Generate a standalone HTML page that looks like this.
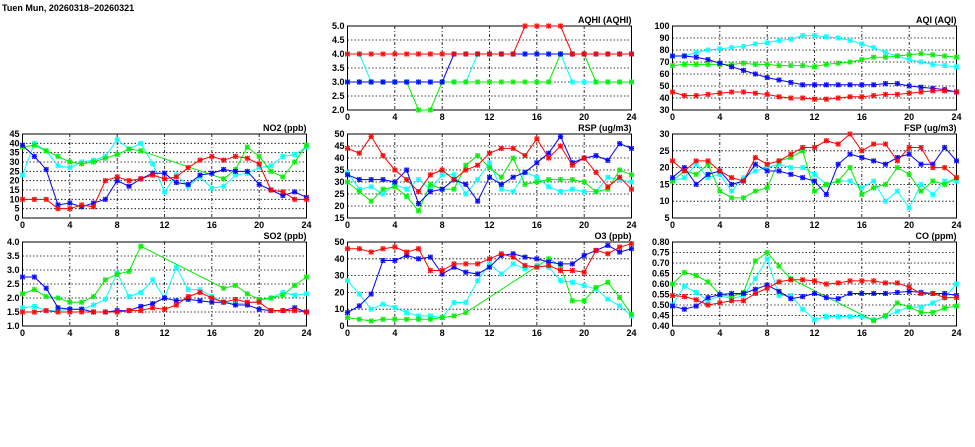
<!DOCTYPE html>
<html><head><meta charset="utf-8">
<style>
body{margin:0;background:#fff;width:975px;height:447px;overflow:hidden}
svg{display:block}
text{font-family:"Liberation Sans",sans-serif;font-weight:bold;font-size:9px;fill:#000}
</style></head><body>
<svg id="chart" width="975" height="447">
<text x="2" y="11" font-size="10">Tuen Mun, 20260318−20260321</text>
</svg>
<script>
const hours=[0,1,2,3,4,5,6,7,8,9,10,11,12,13,14,15,16,17,18,19,20,21,22,23,24];
const N=null;
const aqhiTicks=["2.0","2.5","3.0","3.5","4.0","4.5","5.0"];
const aqhiCyan=[4,4,3,3,3,3,3,3,3,3,3,4,4,4,4,4,4,4,4,3,3,3,3,3,3];
const aqhiGreen=[3,3,3,3,3,3,2,2,3,3,3,3,3,3,3,3,3,3,4,4,4,3,3,3,3];
const aqhiBlue=[3,3,3,3,3,3,3,3,3,4,4,4,4,4,4,4,4,4,4,4,4,4,4,4,4];
const aqhiRed=[4,4,4,4,4,4,4,4,4,4,4,4,4,4,4,5,5,5,5,4,4,4,4,4,4];
const aqiTicks=["30","40","50","60","70","80","90","100"];
const aqiCyan=[75,75,78,80,81,82,83,85,86,88,89,92,92,91,90,88,85,82,78,75,72,70,68,67,66];
const aqiGreen=[67,68,68,68,68,68,69,68,68,67,67,67,66,68,69,70,72,74,74,75,76,77,76,75,74];
const aqiBlue=[75,75,74,72,69,66,63,60,57,55,53,51,51,51,51,51,51,51,52,52,50,49,48,47,45];
const aqiRed=[45,42,42,43,44,45,45,44,43,41,40,40,39,39,40,41,41,42,43,43,44,45,46,46,45];
const no2Ticks=["0","5","10","15","20","25","30","35","40","45"];
const no2Cyan=[23,40,36,28,27,30,31,33,42,37,40,29,14,23,17,22,16,17,23,24,27,28,33,34,38];
const no2Green=[38,39,36,33,30,29,30,32,34,37,36,N,N,N,N,N,N,21,26,38,33,25,22,30,39];
const no2Blue=[39,33,26,7,8,6,8,10,20,17,21,24,24,19,18,23,24,26,25,25,18,15,12,14,11];
const no2Red=[10,10,10,5,5,7,6,20,22,20,21,23,21,22,27,31,33,31,33,32,29,15,14,10,10];
const rspTicks=["15","20","25","30","35","40","45","50"];
const rspCyan=[34,27,28,25,29,27,31,27,33,33,25,31,38,27,26,34,32,28,26,27,26,26,32,31,30];
const rspGreen=[30,26,22,27,28,24,18,29,27,27,37,41,36,32,40,29,30,31,31,31,30,26,27,35,33];
const rspBlue=[33,31,31,31,30,35,21,26,27,31,29,22,32,29,32,34,38,42,49,38,40,41,39,46,44];
const rspRed=[44,42,49,41,35,31,26,33,35,31,35,37,42,44,44,41,48,40,45,37,40,34,28,32,27];
const fspTicks=["5","10","15","20","25","30"];
const fspCyan=[16,17,21,17,18,13,17,19,20,21,20,20,18,15,16,16,14,16,10,13,8,15,12,16,16];
const fspGreen=[16,19,18,21,13,11,11,13,14,22,23,25,13,15,16,20,12,14,15,20,18,13,16,15,17];
const fspBlue=[17,20,15,18,19,15,16,21,19,19,18,17,16,12,21,24,23,22,21,23,24,21,21,26,22];
const fspRed=[22,19,22,22,19,17,16,23,21,22,24,26,26,28,27,30,25,27,27,22,26,26,20,20,17];
const so2Ticks=["1.0","1.5","2.0","2.5","3.0","3.5","4.0"];
const so2Cyan=[1.65,1.7,1.55,1.55,1.6,1.6,1.75,1.95,2.9,2.05,2.2,2.65,2.0,3.1,2.3,2.3,2.05,1.85,1.8,1.8,1.9,2.0,2.2,2.1,2.15];
const so2Green=[2.15,2.3,2.05,2.0,1.85,1.85,2.05,2.65,2.85,2.95,3.85,N,N,N,N,N,N,2.35,2.45,2.15,1.95,2.0,2.1,2.45,2.75];
const so2Blue=[2.75,2.75,2.35,1.65,1.6,1.6,1.5,1.5,1.55,1.55,1.7,1.8,2.0,1.9,1.95,1.9,1.85,1.85,1.75,1.75,1.6,1.55,1.55,1.65,1.5];
const so2Red=[1.5,1.5,1.55,1.5,1.5,1.5,1.5,1.5,1.5,1.55,1.55,1.65,1.6,1.75,2.05,2.2,2.0,1.85,1.95,1.85,1.85,1.55,1.55,1.55,1.5];
const o3Ticks=["0","10","20","30","40","50"];
const o3Cyan=[27,19,10,13,11,8,6,6,5,14,14,27,37,31,37,34,36,35,27,26,24,22,16,12,6];
const o3Green=[5,4,3,4,4,4,4,4,5,6,8,N,N,N,N,N,N,40,36,15,15,23,26,17,7];
const o3Blue=[8,12,19,39,39,42,40,41,31,35,32,31,35,42,43,41,40,38,37,37,42,45,48,44,46];
const o3Red=[46,46,44,46,47,44,46,33,33,37,37,37,40,43,41,36,35,36,33,33,32,45,43,47,49];
const coTicks=["0.40","0.45","0.50","0.55","0.60","0.65","0.70","0.75","0.80"];
const coCyan=[.50,.59,.56,.52,.545,.53,.545,.625,.72,.545,.545,.48,.43,.445,.445,.445,.445,.43,.445,.47,.49,.49,.51,.535,.60];
const coGreen=[.60,.655,.64,.61,.55,.54,.56,.71,.75,.685,.625,N,N,N,N,N,N,.425,.45,.51,.49,.465,.465,.485,.495];
const coBlue=[.495,.48,.495,.535,.55,.555,.555,.575,.595,.565,.53,.54,.555,.535,.53,.555,.555,.555,.555,.56,.565,.56,.555,.555,.545];
const coRed=[.545,.54,.525,.50,.51,.52,.52,.555,.58,.61,.62,.62,.615,.60,.605,.615,.615,.615,.605,.605,.585,.555,.555,.535,.535];
const xTicks=[0,4,8,12,16,20,24];

const panels=[
 {name:"aqhi",title:"AQHI (AQHI)",x:347.5,y:26,ticks:aqhiTicks,s:[aqhiCyan,aqhiGreen,aqhiBlue,aqhiRed]},
 {name:"aqi",title:"AQI (AQI)",x:672.5,y:26,ticks:aqiTicks,s:[aqiCyan,aqiGreen,aqiBlue,aqiRed]},
 {name:"no2",title:"NO2 (ppb)",x:22.5,y:134,ticks:no2Ticks,s:[no2Cyan,no2Green,no2Blue,no2Red]},
 {name:"rsp",title:"RSP (ug/m3)",x:347.5,y:134,ticks:rspTicks,s:[rspCyan,rspGreen,rspBlue,rspRed]},
 {name:"fsp",title:"FSP (ug/m3)",x:672.5,y:134,ticks:fspTicks,s:[fspCyan,fspGreen,fspBlue,fspRed]},
 {name:"so2",title:"SO2 (ppb)",x:22.5,y:242,ticks:so2Ticks,s:[so2Cyan,so2Green,so2Blue,so2Red]},
 {name:"o3",title:"O3 (ppb)",x:347.5,y:242,ticks:o3Ticks,s:[o3Cyan,o3Green,o3Blue,o3Red]},
 {name:"co",title:"CO (ppm)",x:672.5,y:242,ticks:coTicks,s:[coCyan,coGreen,coBlue,coRed]}
];
const colors=["#00ffff","#00ee00","#0000ff","#ff0000"];
const cnames=["cyan","green","blue","red"];
const W=284,H=84;
const svg=document.getElementById('chart');
const NS="http://www.w3.org/2000/svg";
function mk(tag,attrs,parent){const e=document.createElementNS(NS,tag);for(const k in attrs)e.setAttribute(k,attrs[k]);(parent||svg).appendChild(e);return e;}

panels.forEach(p=>{
 const g=mk('g',{});
 
 
 const tv=p.ticks.map(Number);
 const ymin=tv[0],ymax=tv[tv.length-1];
 const sx=h=>p.x+h/24*W;
 const sy=v=>p.y+H-(v-ymin)/(ymax-ymin)*H;
 p.ticks.forEach((t,i)=>{
  const y=sy(tv[i]);
  if(i>0&&i<p.ticks.length-1){const l=mk('line',{x1:p.x,x2:p.x+W,y1:y,y2:y,stroke:'#000','stroke-width':0.8,'stroke-dasharray':'1.5,2'},g);
   }
  const tx=mk('text',{x:p.x-3,y:y+3,'text-anchor':'end'},g);tx.textContent=t;
  
 });
 xTicks.forEach(h=>{
  const x=sx(h);
  if(h>0&&h<24){const l=mk('line',{x1:x,x2:x,y1:p.y,y2:p.y+H,stroke:'#000','stroke-width':0.8,'stroke-dasharray':'3,2,1,2'},g);
   }
  const tx=mk('text',{x:x,y:p.y+H+10,'text-anchor':'middle'},g);tx.textContent=h;
  
 });
 const fr=mk('rect',{x:p.x,y:p.y,width:W,height:H,fill:'none',stroke:'#000','stroke-width':1},g);
 
 const tt=mk('text',{x:p.x+W,y:p.y-3,'text-anchor':'end'},g);tt.textContent=p.title;
 
 p.s.forEach((arr,si)=>{
  const c=colors[si];
  const pts=[];arr.forEach((v,i)=>{if(v!==null)pts.push([sx(hours[i]),sy(v)]);});
  const pl=mk('polyline',{points:pts.map(q=>q.join(',')).join(' '),fill:'none',stroke:c,'stroke-width':1},g);
  
  
  pts.forEach(q=>{
   const m=mk('g',{},g);
   
   
   mk('rect',{x:q[0]-2,y:q[1]-2,width:4,height:4,fill:'none',stroke:c,'stroke-width':0.8,opacity:0.6},m);
   mk('path',{d:`M${q[0]-2.2},${q[1]-2.2}L${q[0]+2.2},${q[1]+2.2}M${q[0]-2.2},${q[1]+2.2}L${q[0]+2.2},${q[1]-2.2}M${q[0]},${q[1]-2.6}V${q[1]+2.6}M${q[0]-2.6},${q[1]}H${q[0]+2.6}`,stroke:c,'stroke-width':0.9},m);
  });
 });
});
</script>
</body></html>
